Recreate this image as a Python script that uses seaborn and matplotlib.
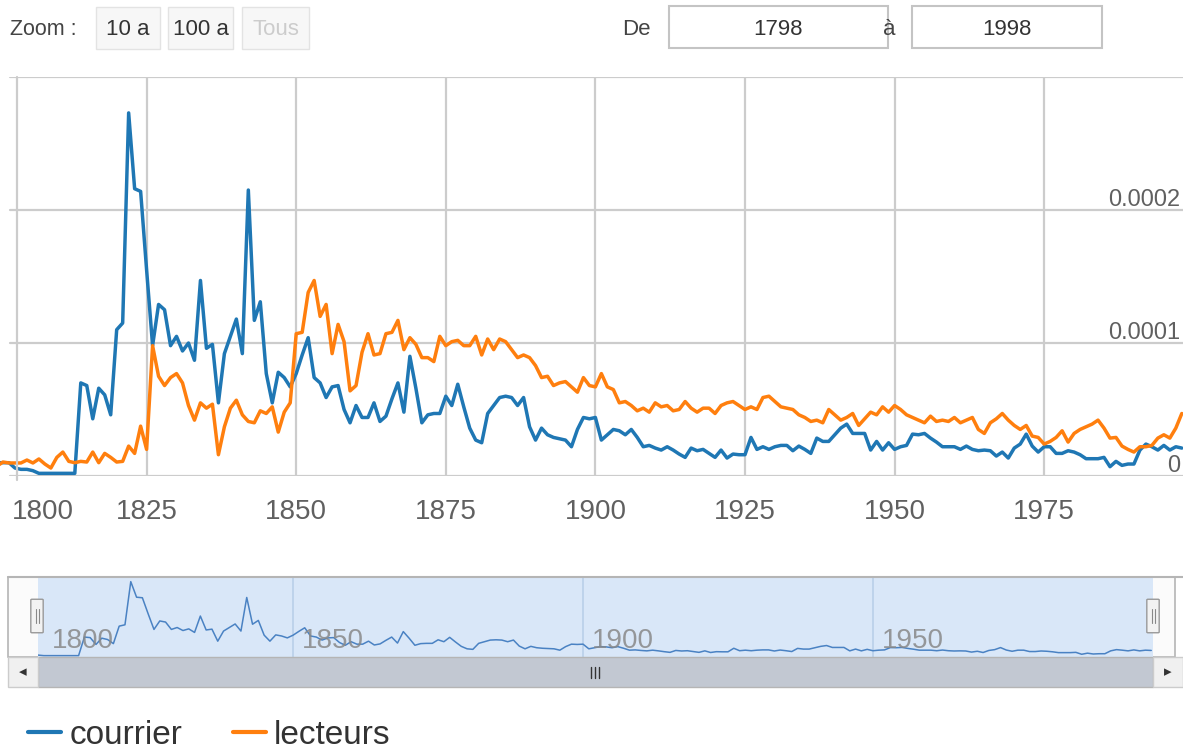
import numpy as np
import pandas as pd
import matplotlib
matplotlib.use("Agg")
import matplotlib.pyplot as plt
import seaborn as sns
from matplotlib.patches import Rectangle, FancyBboxPatch
from matplotlib.lines import Line2D

# yearly frequencies, in millionths (x 1e-6), 1800 -> 1998
start_year = 1800
courrier = [10, 10, 10, 6, 5, 5, 4, 2, 2, 2,
            2, 2, 2, 2, 70, 68, 43, 66, 61, 46,
            110, 115, 273, 216, 214, 155, 98, 129, 125, 98,
            105, 94, 100, 87, 147, 96, 99, 55, 92, 105,
            118, 92, 215, 117, 131, 77, 55, 78, 74, 67,
            77, 91, 104, 74, 70, 59, 67, 68, 50, 40,
            53, 44, 44, 55, 41, 45, 58, 70, 48, 90,
            66, 40, 46, 47, 47, 60, 53, 69, 52, 36,
            27, 25, 47, 53, 59, 60, 59, 53, 59, 37,
            27, 36, 31, 29, 28, 27, 22, 35, 44, 43,
            44, 27, 31, 35, 34, 31, 35, 29, 22, 23,
            21, 19.5, 22, 19.5, 16.5, 14, 21, 19, 20, 17,
            14, 19.5, 13.5, 16.5, 16, 16, 29, 20, 22, 20,
            22, 23, 23, 19, 22.5, 20, 17, 28.5, 26, 26,
            31, 36, 39, 32, 32, 32, 19.5, 26, 19.5, 25,
            20, 22, 23, 31.5, 31, 32, 28.5, 25.5, 22, 22,
            22, 20, 22.5, 20, 19, 19.5, 19, 15, 18, 13.5,
            21, 24, 31.5, 22.5, 18, 22, 22, 17, 17, 19,
            18, 16, 13, 13, 13, 14, 7, 11, 8, 9,
            9, 19.5, 24, 22, 19.5, 23, 19.5, 22, 21]
lecteurs = [7.5, 10.5, 9.8, 9.8, 9.8, 12, 9.8, 12.8, 9, 6,
            14, 18, 11, 10, 11, 10.5, 18, 10, 17, 14,
            10.5, 11, 22.5, 17, 37.5, 20, 98, 75, 68, 74,
            77, 70, 53, 42, 55, 51, 54, 16, 37, 51,
            57, 46, 41, 40, 49, 47, 52, 33, 48, 55,
            107, 108, 138, 147, 120, 129, 92, 114, 101, 64,
            68, 93, 107, 91, 92, 107, 108, 117, 95, 104,
            99, 89, 89, 86, 105, 98, 101, 102, 98, 98,
            105, 91, 103, 95, 103, 101, 95, 89, 91, 89,
            83, 74, 75, 68, 70, 71, 67, 63, 74, 68,
            67, 77, 67, 65, 55, 56, 53, 49, 51, 48,
            55, 52, 53, 49, 50, 56, 51, 48, 51, 51,
            47, 53, 55, 56, 53, 50, 52, 50, 59, 60,
            56, 52, 51, 50, 46, 44, 41, 42, 40, 50,
            46, 42, 44, 47, 38, 43, 48, 46, 52, 48,
            53, 50, 46, 44, 42, 40, 45, 41, 42, 41,
            44, 40, 42, 44, 35, 32, 40, 43, 47, 42,
            38, 35, 38, 30, 29, 24, 26, 29, 34, 25.5,
            32, 35, 37, 39, 42, 36, 28.5, 29, 22.5, 20,
            18, 22, 22, 23, 28.5, 31, 28.5, 36, 47]
years = list(range(start_year, start_year + len(courrier)))
series_names = ["courrier", "lecteurs"]
series_colors = ["#1f77b4", "#ff7f0e"]

x_ticks = [1825, 1850, 1875, 1900, 1925, 1950, 1975]
first_label = "1800"
grid_levels = [0, 0.0001, 0.0002, 0.0003]
y_ticks = [0, 0.0001, 0.0002]
y_tick_labels = ["0", "0.0001", "0.0002"]
nav_ticks = [1850, 1900, 1950]
zoom_buttons = ["10 a", "100 a", "Tous"]
range_from, range_to = "1798", "1998"

n = len(years)
df = pd.DataFrame({
    "annee": years * 2,
    "freq": np.array(courrier + lecteurs) * 1e-6,
    "mot": ["courrier"] * n + ["lecteurs"] * n,
})

sns.set_style("white")
plt.rcParams["font.family"] = ["Liberation Sans", "DejaVu Sans"]

W, H = 1183, 751
fig = plt.figure(figsize=(W / 100, H / 100), dpi=100)

def fx(px):
    return px / W

def fy(py):
    return 1 - py / H

grid_col = "#cccccc"
txt_col = "#606060"

# main plot
ax = fig.add_axes([0, fy(476), 1, (476 - 77) / H])
sns.lineplot(data=df, x="annee", y="freq", hue="mot", palette=series_colors,
             linewidth=2.5, ax=ax, legend=False, zorder=3)
ax.set_xlim(1800.5, 1998.2)
ax.set_ylim(0, 0.0003)
for s in ax.spines.values():
    s.set_visible(False)
for g in grid_levels:
    ax.axhline(g, xmin=10 / W, color=grid_col, lw=1.6, zorder=0)
ax.set_xticks(x_ticks)
ax.set_yticks([])
ax.grid(axis="x", color=grid_col, lw=1.6, zorder=0)
ax.tick_params(length=0)
ax.set_xticklabels([])
ax.set_xlabel("")
ax.set_ylabel("")
fig.add_artist(Line2D([fx(17), fx(17)], [fy(77), fy(480)], color=grid_col, lw=1.6))

for v, lab in zip(y_ticks, y_tick_labels):
    ax.annotate(lab, xy=(1, v), xycoords=("axes fraction", "data"), xytext=(-3, 4),
                textcoords="offset pixels", ha="right", va="baseline",
                fontsize=17, color=txt_col, zorder=5)
for t in x_ticks:
    ax.annotate(str(t), xy=(t, 0), xycoords=("data", "axes fraction"), xytext=(0, -43),
                textcoords="offset pixels", ha="center", va="baseline",
                fontsize=20, color=txt_col)
fig.text(fx(12), fy(519), first_label, ha="left", va="baseline", fontsize=20, color=txt_col)

# top toolbar
fig.text(fx(10), fy(35), "Zoom :", ha="left", va="baseline", fontsize=15.5, color="#444444")
btn_x = [(96, 160), (168, 233), (242, 309)]
for (x0, x1), lab in zip(btn_x, zoom_buttons):
    fig.add_artist(Rectangle((fx(x0), fy(49)), fx(x1 - x0), (49 - 7) / H, transform=fig.transFigure,
                             facecolor="#f7f7f7", edgecolor="#e3e3e3", lw=1))
    fig.text(fx((x0 + x1) / 2), fy(35), lab, ha="center", va="baseline", fontsize=16,
             color="#cccccc" if lab == "Tous" else "#333333")
fig.text(fx(622), fy(35), "De", ha="left", va="baseline", fontsize=16, color="#444444")
fig.text(fx(889), fy(35), "à", ha="center", va="baseline", fontsize=16, color="#444444")
for (x0, x1), lab in zip([(669, 888), (912, 1102)], [range_from, range_to]):
    fig.add_artist(Rectangle((fx(x0), fy(48)), fx(x1 - x0), (48 - 6) / H, transform=fig.transFigure,
                             facecolor="white", edgecolor="#c4c4c4", lw=1.5))
    fig.text(fx((x0 + x1) / 2), fy(35), lab, ha="center", va="baseline", fontsize=16, color="#333333")

# navigator
fig.add_artist(Rectangle((fx(8), fy(657)), fx(1175 - 8), (657 - 577) / H, transform=fig.transFigure,
                         facecolor="#fbfbfb", edgecolor="#b5b5b5", lw=1.2, zorder=0))
nav = fig.add_axes([fx(38), fy(657), fx(1153 - 38), (657 - 577) / H])
nav.set_facecolor("#d9e7f8")
sns.lineplot(x=years, y=np.array(courrier) * 1e-6, color="#4a82c3", linewidth=1.1, ax=nav)
nav.set_xlim(1806, 1998.3)
nav.set_ylim(-0.000003, 0.00029)
nav.set_xticks(nav_ticks)
nav.set_yticks([])
nav.set_xticklabels([])
nav.grid(axis="x", color="#b9cfe9", lw=1.2)
nav.tick_params(length=0)
for s in nav.spines.values():
    s.set_visible(False)
for t in nav_ticks:
    nav.annotate(str(t), xy=(t, 0), xycoords=("data", "axes fraction"), xytext=(9, 9),
                 textcoords="offset pixels", ha="left", va="baseline", fontsize=20,
                 color="#888888", alpha=0.85)
fig.text(fx(52), fy(648), first_label, ha="left", va="baseline", fontsize=20, color="#888888", alpha=0.85)
fig.add_artist(Line2D([fx(8), fx(1183)], [fy(577), fy(577)], color="#b5b5b5", lw=1.5))

# handles
for hx in [37, 1153]:
    fig.add_artist(FancyBboxPatch((fx(hx - 5), fy(632)), fx(10), 32 / H, transform=fig.transFigure,
                                  boxstyle="round,pad=0.001", facecolor="#f2f2f2", edgecolor="#999999", lw=1))
    for dx in (-1.5, 1.5):
        fig.add_artist(Line2D([fx(hx + dx), fx(hx + dx)], [fy(609), fy(623)], color="#888888", lw=0.8))

# scrollbar
fig.add_artist(Rectangle((fx(38), fy(687)), fx(1153 - 38), 30 / H, transform=fig.transFigure,
                         facecolor="#c2c8d2", edgecolor="#b5b5b5", lw=1))
for x0, arrow in [(8, "◂"), (1153, "▸")]:
    fig.add_artist(Rectangle((fx(x0), fy(687)), fx(30), 30 / H, transform=fig.transFigure,
                             facecolor="#f0f0f0", edgecolor="#cccccc", lw=1))
    fig.text(fx(x0 + 15), fy(672), arrow, ha="center", va="center", fontsize=11,
             color="#333333", family="DejaVu Sans")
for dx in (-4, 0, 4):
    fig.add_artist(Line2D([fx(595 + dx), fx(595 + dx)], [fy(667), fy(678)], color="#333333", lw=1))

# legend
handles = [Line2D([0], [0], color=c, lw=3) for c in series_colors]
fig.legend(handles, series_names, loc="lower left", bbox_to_anchor=(fx(28), fy(751)),
           ncol=2, frameon=False, fontsize=24, handlelength=1.0, handletextpad=0.25,
           columnspacing=1.5, labelcolor="#333333", borderaxespad=0, borderpad=0)

fig.savefig("out.png", dpi=100)
